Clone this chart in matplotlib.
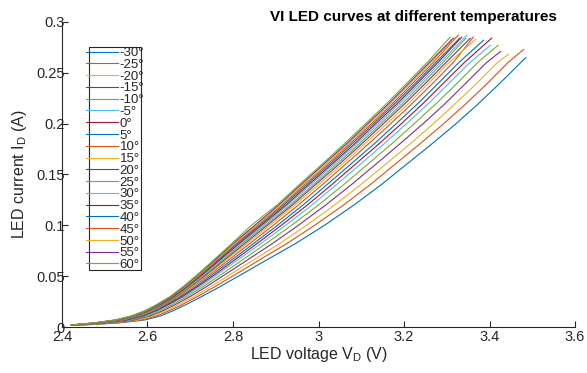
"""VI LED curves at different temperatures (MATLAB-style figure)."""
import matplotlib

matplotlib.use("Agg")
import matplotlib.pyplot as plt
from matplotlib.patches import Rectangle

plt.rcParams["font.family"] = ["Liberation Sans", "DejaVu Sans"]

# legend labels, one per curve
TEMPS = ["-30", "-25", "-20", "-15", "-10", "-5", "0", "5", "10", "15",
         "20", "25", "30", "35", "40", "45", "50", "55", "60"]

I_GRID = [0.002, 0.004, 0.007, 0.011, 0.016, 0.022, 0.03, 0.04, 0.052, 0.066,
          0.082, 0.1, 0.12, 0.14, 0.16, 0.18, 0.2, 0.22, 0.24, 0.26]

# LED voltage (V) of each curve at the currents in I_GRID
V_M30 = [2.450, 2.533, 2.595, 2.631, 2.660, 2.690, 2.727, 2.771, 2.821, 2.879,
         2.946, 3.014, 3.083, 3.147, 3.206, 3.265, 3.322, 3.375, 3.425, 3.473]
V_M25 = [2.446, 2.525, 2.586, 2.622, 2.651, 2.681, 2.717, 2.759, 2.807, 2.862,
         2.926, 2.991, 3.059, 3.121, 3.179, 3.237, 3.293, 3.346, 3.396, 3.443]
V_M20 = [2.443, 2.518, 2.578, 2.614, 2.644, 2.673, 2.709, 2.749, 2.795, 2.848,
         2.909, 2.972, 3.038, 3.099, 3.157, 3.214, 3.269, 3.321, 3.371, 3.418]
V_M15 = [2.439, 2.511, 2.569, 2.606, 2.636, 2.665, 2.700, 2.739, 2.783, 2.834,
         2.892, 2.953, 3.017, 3.077, 3.134, 3.190, 3.245, 3.297, 3.345, 3.393]
V_M10 = [2.436, 2.505, 2.563, 2.600, 2.630, 2.658, 2.693, 2.731, 2.774, 2.822,
         2.877, 2.937, 3.000, 3.059, 3.115, 3.171, 3.224, 3.276, 3.325, 3.372]
V_M05 = [2.434, 2.500, 2.557, 2.594, 2.624, 2.652, 2.687, 2.724, 2.765, 2.811,
         2.865, 2.923, 2.985, 3.042, 3.098, 3.153, 3.206, 3.258, 3.306, 3.354]
V_P00 = [2.432, 2.497, 2.553, 2.590, 2.620, 2.648, 2.682, 2.718, 2.759, 2.804,
         2.856, 2.913, 2.974, 3.031, 3.086, 3.141, 3.194, 3.245, 3.293, 3.341]
V_P05 = [2.430, 2.493, 2.549, 2.586, 2.616, 2.644, 2.678, 2.714, 2.753, 2.797,
         2.848, 2.904, 2.964, 3.020, 3.075, 3.130, 3.182, 3.233, 3.281, 3.328]
V_P10 = [2.428, 2.490, 2.545, 2.582, 2.612, 2.640, 2.674, 2.708, 2.747, 2.790,
         2.839, 2.894, 2.953, 3.009, 3.063, 3.117, 3.169, 3.220, 3.268, 3.315]
V_P15 = [2.427, 2.487, 2.541, 2.579, 2.610, 2.637, 2.670, 2.704, 2.742, 2.784,
         2.832, 2.886, 2.945, 3.000, 3.055, 3.108, 3.160, 3.211, 3.258, 3.305]
V_P20 = [2.426, 2.485, 2.539, 2.577, 2.607, 2.635, 2.668, 2.701, 2.739, 2.780,
         2.827, 2.880, 2.939, 2.993, 3.048, 3.101, 3.152, 3.203, 3.251, 3.298]
V_P25 = [2.425, 2.483, 2.537, 2.575, 2.605, 2.633, 2.666, 2.699, 2.736, 2.776,
         2.822, 2.875, 2.934, 2.988, 3.042, 3.095, 3.146, 3.197, 3.244, 3.291]
V_P30 = [2.424, 2.481, 2.535, 2.573, 2.603, 2.631, 2.663, 2.696, 2.732, 2.772,
         2.818, 2.870, 2.928, 2.982, 3.036, 3.089, 3.140, 3.190, 3.238, 3.285]
V_P35 = [2.423, 2.480, 2.533, 2.571, 2.602, 2.629, 2.662, 2.694, 2.730, 2.769,
         2.814, 2.866, 2.924, 2.977, 3.031, 3.084, 3.134, 3.185, 3.232, 3.279]
V_P40 = [2.423, 2.478, 2.531, 2.569, 2.600, 2.627, 2.660, 2.692, 2.727, 2.766,
         2.810, 2.862, 2.919, 2.972, 3.026, 3.078, 3.129, 3.179, 3.227, 3.274]
V_P45 = [2.422, 2.477, 2.530, 2.567, 2.598, 2.625, 2.658, 2.690, 2.725, 2.763,
         2.807, 2.858, 2.915, 2.967, 3.021, 3.073, 3.124, 3.174, 3.221, 3.268]
V_P50 = [2.421, 2.476, 2.528, 2.566, 2.597, 2.624, 2.656, 2.688, 2.722, 2.760,
         2.803, 2.854, 2.911, 2.963, 3.017, 3.069, 3.119, 3.169, 3.216, 3.263]
V_P55 = [2.421, 2.474, 2.527, 2.564, 2.595, 2.623, 2.655, 2.686, 2.720, 2.758,
         2.800, 2.851, 2.907, 2.959, 3.012, 3.065, 3.115, 3.165, 3.212, 3.259]
V_P60 = [2.420, 2.473, 2.525, 2.563, 2.594, 2.621, 2.653, 2.684, 2.718, 2.755,
         2.797, 2.843, 2.903, 2.955, 3.008, 3.060, 3.110, 3.160, 3.207, 3.254]

# last measured point of each curve (same order as TEMPS)
V_END = [3.485, 3.480, 3.444, 3.426, 3.420, 3.402, 3.405, 3.386, 3.362, 3.368,
         3.355, 3.345, 3.347, 3.335, 3.330, 3.327, 3.320, 3.315, 3.308]
I_END = [0.265, 0.273, 0.268, 0.271, 0.277, 0.277, 0.284, 0.282, 0.285, 0.283,
         0.284, 0.284, 0.287, 0.285, 0.284, 0.287, 0.285, 0.284, 0.285]

V_CURVES = [V_M30, V_M25, V_M20, V_M15, V_M10, V_M05, V_P00, V_P05, V_P10, V_P15,
            V_P20, V_P25, V_P30, V_P35, V_P40, V_P45, V_P50, V_P55, V_P60]

X_TICKS = [2.4, 2.6, 2.8, 3.0, 3.2, 3.4, 3.6]
X_TICKLABELS = ["2.4", "2.6", "2.8", "3", "3.2", "3.4", "3.6"]
Y_TICKS = [0, 0.05, 0.1, 0.15, 0.2, 0.25, 0.3]
Y_TICKLABELS = ["0", "0.05", "0.1", "0.15", "0.2", "0.25", "0.3"]

# MATLAB default color order
COLORS = ["#0072BD", "#D95319", "#EDB120", "#7E2F8E", "#77AC30", "#4DBEEE", "#A2142F"]
AX_COLOR = "#262626"

fig = plt.figure(figsize=(5.87, 3.73), dpi=100)
ax = fig.add_axes([0.1056, 0.1233, 0.874, 0.818])

for k, (temp, volts) in enumerate(zip(TEMPS, V_CURVES)):
    ax.plot(volts + [V_END[k]], I_GRID + [I_END[k]],
            color=COLORS[k % len(COLORS)], lw=0.8, label=f"{temp}°")

ax.set_xlim(2.4, 3.6)
ax.set_ylim(0, 0.3)
ax.set_xticks(X_TICKS)
ax.set_xticklabels(X_TICKLABELS)
ax.set_yticks(Y_TICKS)
ax.set_yticklabels(Y_TICKLABELS)
ax.tick_params(direction="in", length=4, width=0.8, colors=AX_COLOR,
               labelsize=10.5)
ax.tick_params(axis="y", pad=-2)
ax.tick_params(axis="x", pad=2)
for side in ("top", "right"):
    ax.spines[side].set_visible(False)
for side in ("left", "bottom"):
    ax.spines[side].set_color(AX_COLOR)
    ax.spines[side].set_linewidth(0.8)

ax.set_xlabel("LED voltage V$_\\mathregular{D}$ (V)", fontsize=11.5,
              color=AX_COLOR, labelpad=1)
ax.set_ylabel("LED current I$_\\mathregular{D}$ (A)", fontsize=11.5,
              color=AX_COLOR, labelpad=5)
fig.text(0.705, 0.955, "VI LED curves at different temperatures",
         ha="center", va="center", fontsize=11, fontweight="bold", color="black")

leg = ax.legend(loc="upper left", bbox_to_anchor=(0.047, 0.918), frameon=False,
                fontsize=9.5, labelspacing=-0.035, handlelength=2.4,
                handletextpad=0.15, borderpad=0.0, borderaxespad=0.0)
for txt in leg.get_texts():
    txt.set_color(AX_COLOR)
ax.add_patch(Rectangle((0.0526, 0.187), 0.1014, 0.731, transform=ax.transAxes,
                       fill=False, edgecolor=AX_COLOR, lw=0.8, zorder=5))

fig.savefig("out.png", dpi=100)
